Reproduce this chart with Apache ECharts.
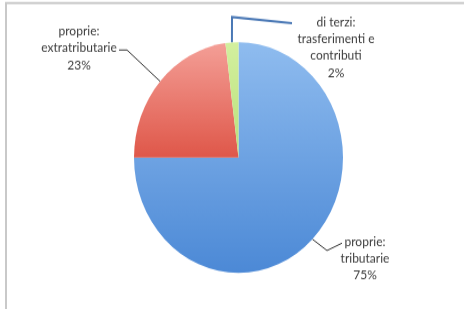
<!DOCTYPE html>
<html>
<head>
<meta charset="utf-8">
<script src="https://cdn.jsdelivr.net/npm/echarts@6/dist/echarts.min.js"></script>
<style>
  html, body { margin: 0; padding: 0; background: #fff; overflow: hidden; width: 464px; height: 309px; }
  #main { width: 464px; height: 280px; transform: scaleY(1.1036); transform-origin: 0 0; }
</style>
</head>
<body>
<div id="main"></div>
<script>
// slices, clockwise from 12 o'clock
var names = ["proprie:\ntributarie", "proprie:\nextratributarie", "di terzi:\ntrasferimenti e\ncontributi"];
var values = [75, 23, 2];

var sliceColors = [
  ["#8fbcef", "#4c89d6"],
  ["#f49f97", "#df5749"],
  ["#d3f09f", "#b9e07a"]
];
// label centres and leader bends (chart px, before the vertical stretch)
var labelPos = [[365, 234], [79, 43.5], [336, 43]];
var leaderPts = [
  [[327, 227], [342, 220.3]],
  [[127, 45.3], [119, 45.3]],
  [[232, 15.4], [292, 20.9]]
];
var leaderColors = ["#333", "#333", "#4a78b5"];

var chartDom = document.getElementById("main");
var myChart = echarts.init(chartDom);

var data = names.map(function (n, i) {
  return {
    name: n,
    value: values[i],
    itemStyle: {
      color: new echarts.graphic.LinearGradient(0, 0, 0, 1, [
        { offset: 0, color: sliceColors[i][0] },
        { offset: 1, color: sliceColors[i][1] }
      ])
    },
    labelLine: { lineStyle: { color: leaderColors[i], width: i === 2 ? 2 : 1 } }
  };
});

myChart.setOption({
  animation: false,
  graphic: [
    {
      type: "rect",
      shape: { x: 6, y: 2.7, width: 480, height: 400 },
      style: { fill: "none", stroke: "#c9c9c9", lineWidth: 2 }
    }
  ],
  series: [
    {
      type: "pie",
      center: [238.5, 142.8],
      radius: 104.5,
      startAngle: 90,
      clockwise: true,
      avoidLabelOverlap: false,
      label: {
        show: true,
        formatter: "{b}\n{c}%",
        fontFamily: "Lato",
        fontSize: 12,
        lineHeight: 15.2,
        color: "#3a3a3a"
      },
      labelLine: { show: true, length: 10, length2: 10 },
      labelLayout: function (params) {
        var i = params.dataIndex;
        var start = params.labelLinePoints ? params.labelLinePoints[0] : null;
        var pts = leaderPts[i];
        return {
          x: labelPos[i][0],
          y: labelPos[i][1],
          align: "center",
          verticalAlign: "middle",
          labelLinePoints: start ? [start, pts[0], pts[1]] : undefined
        };
      },
      data: data
    }
  ]
});
</script>
</body>
</html>
